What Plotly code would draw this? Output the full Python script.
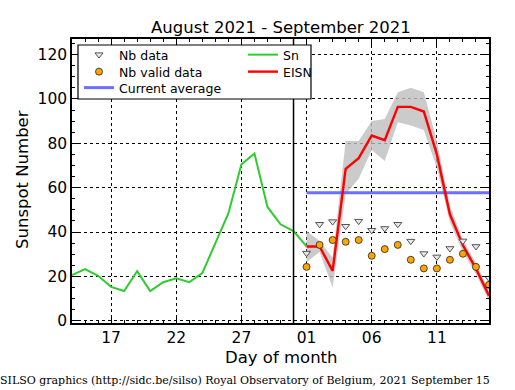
import plotly.graph_objects as go
import pandas as pd

# ---- data ----
sn_dates = pd.date_range("2021-08-14", "2021-09-01", freq="D")
sn_values = [20.6, 23.3, 20.3, 15.3, 13.4, 22.4, 13.4, 17.4, 19.2, 17.4, 21.5,
             35.0, 48.4, 70.5, 75.4, 51.3, 43.5, 40.4, 33.5]

sep_dates = pd.date_range("2021-09-01", "2021-09-15", freq="D")
eisn_values = [33.5, 33.5, 22.5, 68.5, 73.3, 83.5, 81.4, 96.4, 96.4, 94.3, 75.0, 48.0, 34.0, 23.5, 11.3]
eisn_upper = [40.5, 36.0, 28.5, 81.0, 81.0, 90.0, 91.0, 103.0, 105.0, 103.0, 81.0, 52.0, 36.5, 26.0, 13.5]
eisn_lower = [26.5, 31.0, 15.0, 57.0, 64.0, 77.0, 72.0, 89.5, 88.0, 86.0, 69.0, 44.5, 31.0, 21.0, 9.0]
nb_data = [30.5, 43.5, 44.7, 42.6, 44.9, 40.8, 41.6, 43.5, 35.9, 30.3, 28.8, 32.6, 36.0, 33.5, 19.2]
nb_valid = [24.3, 34.2, 36.4, 35.6, 36.4, 29.3, 32.3, 34.2, 27.5, 23.6, 23.6, 27.5, 30.2, 24.3, 16.2]
current_average = 57.7
month_boundary = "2021-08-31"

tick_dates = ["2021-08-17", "2021-08-22", "2021-08-27", "2021-09-01", "2021-09-06", "2021-09-11"]
tick_labels = ["17", "22", "27", "01", "06", "11"]
y_ticks = [0, 20, 40, 60, 80, 100, 120]

FONT = "DejaVu Sans"
W, H = 515, 390
ML, MR, MT, MB = 72, 26, 39, 67

plot_w, plot_h = W - ML - MR, H - MT - MB
def px_to_paper_x(px):
    return (px - ML) / plot_w
def px_to_paper_y(py):
    return (H - MB - py) / plot_h

fig = go.Figure()

# uncertainty band
fig.add_trace(go.Scatter(
    x=list(sep_dates) + list(sep_dates[::-1]),
    y=eisn_upper + eisn_lower[::-1],
    fill="toself", fillcolor="rgba(190,190,190,0.8)",
    line=dict(width=0), mode="lines", hoverinfo="skip", showlegend=False))

fig.add_trace(go.Scatter(
    x=[sep_dates[0], sep_dates[-1]], y=[current_average, current_average],
    mode="lines", line=dict(color="rgba(85,85,255,0.85)", width=3),
    name="Current average", legend="legend3"))

fig.add_trace(go.Scatter(
    x=sn_dates, y=sn_values, mode="lines",
    line=dict(color="#2ecc2e", width=2), name="Sn", legend="legend4"))

fig.add_trace(go.Scatter(
    x=sep_dates, y=eisn_values, mode="lines",
    line=dict(color="#ff0000", width=2.4), name="EISN", legend="legend5"))

fig.add_trace(go.Scatter(
    x=sep_dates, y=nb_data, mode="markers",
    marker=dict(symbol="triangle-down", size=7, color="#e8e8e8",
                line=dict(color="#555555", width=1)),
    name="Nb data", legend="legend"))

fig.add_trace(go.Scatter(
    x=sep_dates, y=nb_valid, mode="markers",
    marker=dict(symbol="circle", size=7, color="#ffa500",
                line=dict(color="#222222", width=0.8)),
    name="Nb valid data", legend="legend2"))

# month boundary line
fig.add_shape(type="line", xref="x", yref="paper", x0=month_boundary, x1=month_boundary,
              y0=0, y1=1, line=dict(color="black", width=1.5), layer="above")

# legend box
fig.add_shape(type="rect", xref="paper", yref="paper",
              x0=px_to_paper_x(78), x1=px_to_paper_x(311),
              y0=px_to_paper_y(99), y1=px_to_paper_y(45),
              line=dict(color="black", width=1.2), fillcolor="white", layer="above")

axis_common = dict(
    showline=True, linecolor="black", linewidth=1.5, mirror="ticks",
    ticks="inside", ticklen=7, tickwidth=1, tickcolor="black",
    showgrid=True, gridcolor="black", gridwidth=1, griddash="dot",
    zeroline=False, tickfont=dict(family=FONT, size=15.5, color="black"),
)

def leg(px, py):
    return dict(x=px_to_paper_x(px), y=px_to_paper_y(py), xanchor="left", yanchor="middle",
                bgcolor="rgba(0,0,0,0)", borderwidth=0,
                font=dict(family=FONT, size=12.5, color="black"))

fig.update_layout(
    width=W, height=H,
    margin=dict(l=ML, r=MR, t=MT, b=MB),
    paper_bgcolor="white", plot_bgcolor="white",
    xaxis=dict(range=["2021-08-14", "2021-09-15"], tickvals=tick_dates, ticktext=tick_labels,
               minor=dict(dtick=86400000, tick0="2021-08-14", ticks="inside", ticklen=3,
                          tickcolor="black", showgrid=False),
               **axis_common),
    yaxis=dict(range=[-1, 127], tickvals=y_ticks,
               minor=dict(dtick=5, tick0=0, ticks="inside", ticklen=3,
                          tickcolor="black", showgrid=False),
               **axis_common),
    legend=leg(79, 55),
    legend2=leg(79, 72),
    legend3=leg(79, 88),
    legend4=leg(243, 55),
    legend5=leg(243, 72),
    showlegend=True,
    annotations=[
        dict(text="August 2021 - September 2021", x=px_to_paper_x(281), y=px_to_paper_y(27),
             xref="paper", yref="paper", showarrow=False, yanchor="middle",
             font=dict(family=FONT, size=16.5, color="black")),
        dict(text="Day of month", x=px_to_paper_x(281), y=px_to_paper_y(357),
             xref="paper", yref="paper", showarrow=False, yanchor="middle",
             font=dict(family=FONT, size=16.5, color="black")),
        dict(text="Sunspot Number", x=px_to_paper_x(22), y=px_to_paper_y(180),
             xref="paper", yref="paper", textangle=-90, showarrow=False,
             xanchor="center", yanchor="middle",
             font=dict(family=FONT, size=16.5, color="black")),
        dict(text="SILSO graphics (http://sidc.be/silso) Royal Observatory of Belgium, 2021 September 15",
             x=px_to_paper_x(245), y=px_to_paper_y(380), xref="paper", yref="paper",
             showarrow=False, xanchor="center", yanchor="middle",
             font=dict(family="DejaVu Serif", size=11, color="black")),
    ],
)

fig.write_html("out.html", config={"displayModeBar": False},
               post_script="document.body.style.margin='0';")
